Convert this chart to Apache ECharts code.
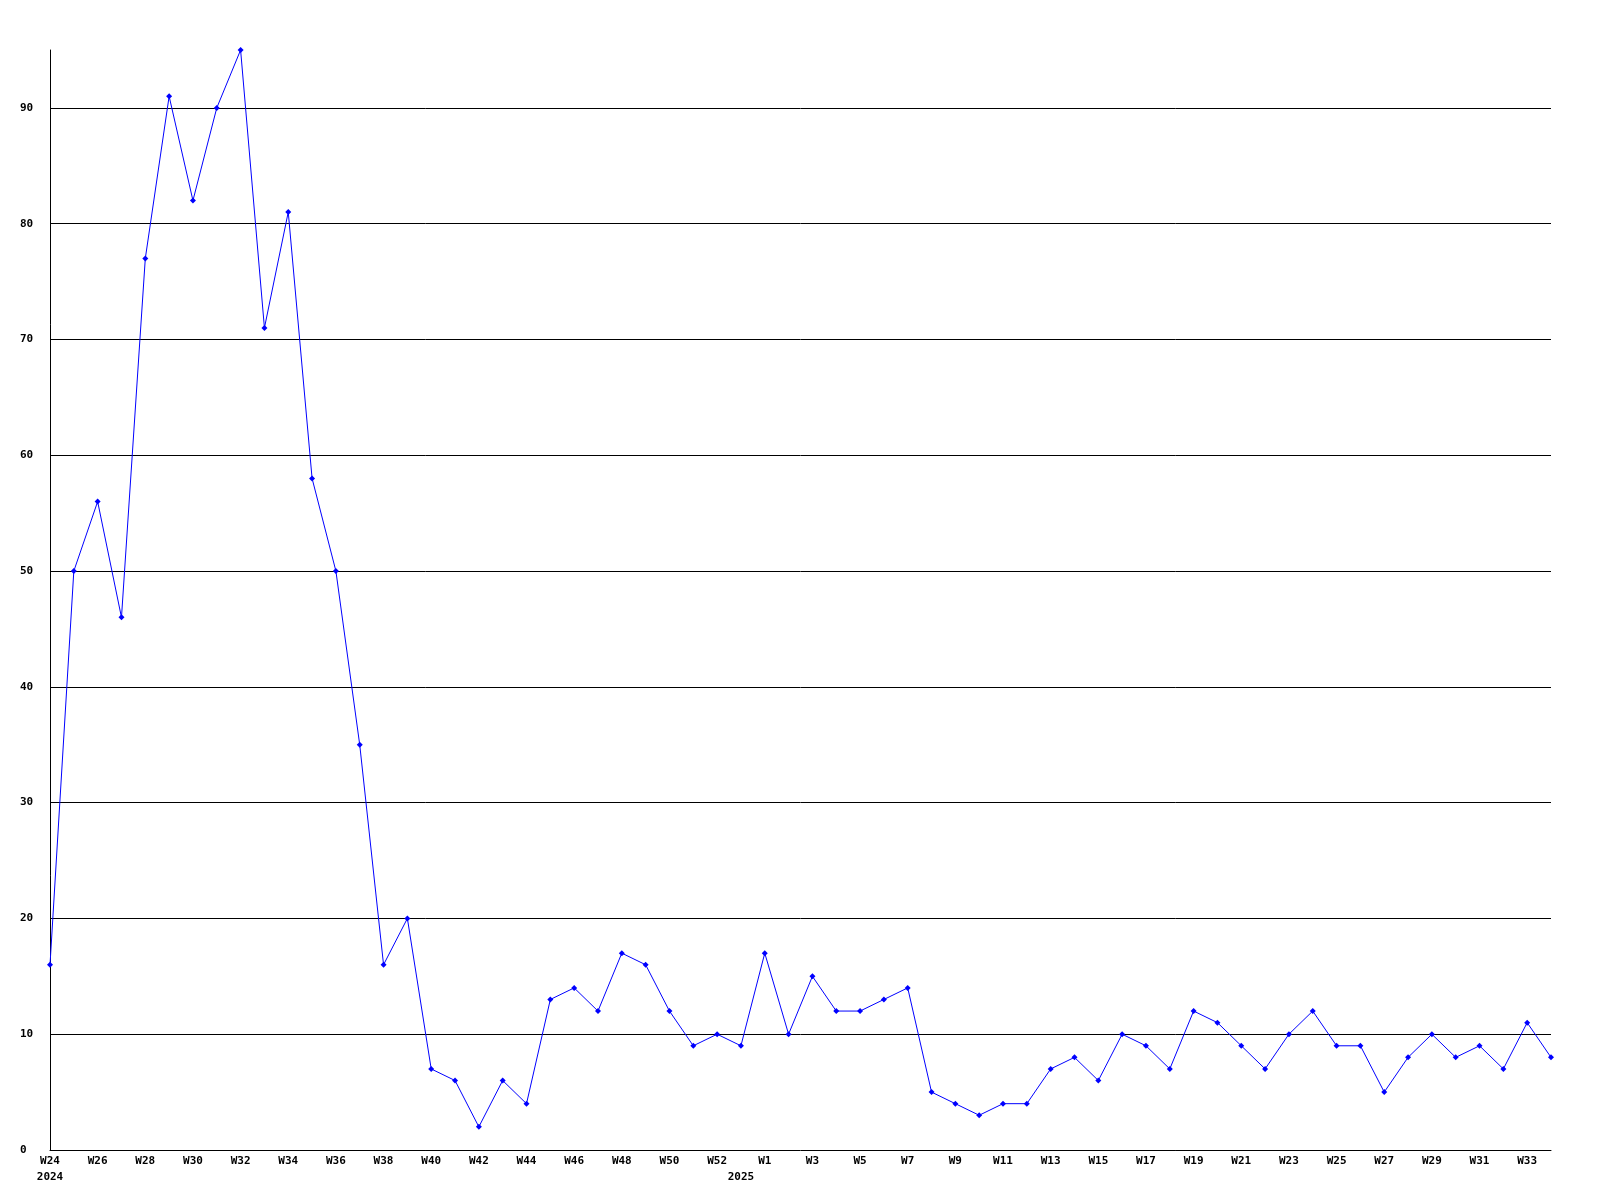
<!DOCTYPE html>
<html>
<head>
<meta charset="utf-8">
<script src="https://cdn.jsdelivr.net/npm/echarts@6/dist/echarts.min.js"></script>
<style>
html,body{margin:0;padding:0;background:#fff;}
#chart{width:1600px;height:1200px;}
</style>
</head>
<body>
<div id="chart"></div>
<script>
const weeks = ['W24','W25','W26','W27','W28','W29','W30','W31','W32','W33','W34','W35','W36','W37','W38','W39','W40','W41','W42','W43','W44','W45','W46','W47','W48','W49','W50','W51','W52','W53',
  'W1','W2','W3','W4','W5','W6','W7','W8','W9','W10','W11','W12','W13','W14','W15','W16','W17','W18','W19','W20','W21','W22','W23','W24','W25','W26','W27','W28','W29','W30','W31','W32','W33','W34'];
const counts = [16,50,56,46,77,91,82,90,95,71,81,58,50,35,16,20,7,6,2,6,4,13,14,12,17,16,12,9,10,9,
  17,10,15,12,12,13,14,5,4,3,4,4,7,8,6,10,9,7,12,11,9,7,10,12,9,9,5,8,10,8,9,7,11,8];
const yearLabels = {0:'2024', 29:'2025'};
const yTicks = {min:0, max:95, interval:10};

const font = 'DejaVu Sans Mono';
const chart = echarts.init(document.getElementById('chart'), null, {renderer:'canvas'});
chart.setOption({
  animation:false,
  backgroundColor:'#ffffff',
  grid:{left:50, right:49, top:50, bottom:50, containLabel:false},
  xAxis:[{
    type:'category', data:weeks, boundaryGap:false,
    axisLine:{show:true, lineStyle:{color:'#000', width:1}},
    axisTick:{show:false},
    splitLine:{show:false},
    axisLabel:{interval:0, margin:6, color:'#000', fontFamily:font, fontWeight:'bold', fontSize:11,
      formatter:(v,i)=> (i%2===0 ? v : '')}
  },{
    type:'category', data:weeks, boundaryGap:false, position:'bottom', offset:16,
    axisLine:{show:false}, axisTick:{show:false}, splitLine:{show:false},
    axisLabel:{interval:0, margin:6, color:'#000', fontFamily:font, fontWeight:'bold', fontSize:11,
      formatter:(v,i)=> (yearLabels[i] || '')}
  }],
  yAxis:{
    type:'value', min:yTicks.min, max:yTicks.max, interval:yTicks.interval,
    axisLine:{show:true, lineStyle:{color:'#000', width:1}},
    axisTick:{show:false},
    splitLine:{show:true, showMinLine:false, showMaxLine:false, lineStyle:{color:'#000', width:1}},
    axisLabel:{showMaxLabel:false, align:'left', margin:30, color:'#000', fontFamily:font, fontWeight:'bold', fontSize:11}
  },
  series:[{
    type:'line', data:counts, xAxisIndex:0,
    lineStyle:{color:'#0000ff', width:1},
    itemStyle:{color:'#0000ff'},
    symbol:'diamond', symbolSize:6, showAllSymbol:true,
    clip:true
  }]
});
</script>
</body>
</html>
